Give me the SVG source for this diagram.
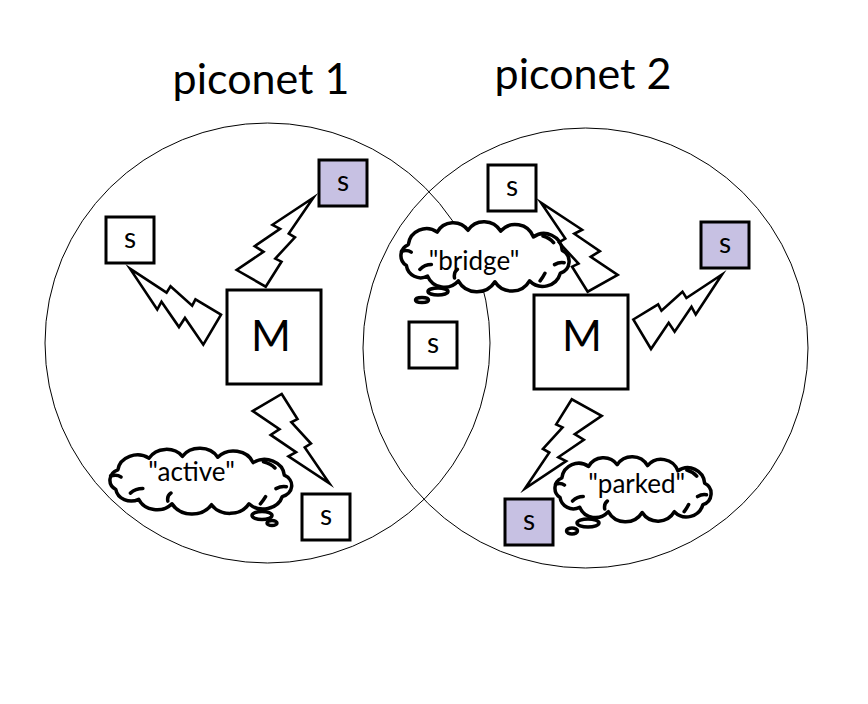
<svg xmlns="http://www.w3.org/2000/svg" xmlns:xlink="http://www.w3.org/1999/xlink" width="868" height="704" viewBox="0 0 868 704">
<style>
  .ring{fill:none;stroke:#000;stroke-width:1}
  .box{fill:#fff;stroke:#000;stroke-width:3}
  .box.parked{fill:#c7c1e3}
  .bolt{fill:none;stroke:#000;stroke-width:2.6;stroke-linejoin:miter;stroke-miterlimit:6;vector-effect:non-scaling-stroke}
  .cloud{fill:#fff;stroke:#000;stroke-width:3.5;stroke-linejoin:round;vector-effect:non-scaling-stroke}
  .curl{fill:none;stroke:#000;stroke-width:3.5;stroke-linecap:round;vector-effect:non-scaling-stroke}
  .tail{fill:#fff;stroke:#000;stroke-width:3.5}
  text{font-family:Lato,"Open Sans","Liberation Sans",sans-serif;fill:#000}
  .title{font-size:43px;text-anchor:middle}
  .m{font-size:43px;text-anchor:middle}
  .s{font-size:28px;text-anchor:middle}
  .lbl{font-size:26px;text-anchor:middle}
</style>
<defs>
  <path id="bolt" class="bolt" d="M0.39222,0 L0.59537,0.28148 L0.51157,0.31468 L0.76745,0.55588 L0.68366,0.59616 L1,1 L0.46352,0.69051 L0.56583,0.64755 L0.2325,0.44931 L0.35194,0.38806 L0,0.18009 Z"/>
  <path id="cloudShape" class="cloud" d="M10,22 A19,19 0 0 1 40,9 A19,19 0 0 1 72,7 A20,20 0 0 1 106,8 A20,20 0 0 1 140,14 A19,19 0 0 1 170,28 A13,13 0 0 1 168,52 A19,19 0 0 1 136,60 A21,21 0 0 1 100,61 A22,22 0 0 1 62,60 A19,19 0 0 1 30,55 A15,15 0 0 1 8,44 A12.5,12.5 0 0 1 10,22 Z"/>
  <path id="cloudCurls" class="curl" d="M3,29 Q9,27 13,30 M22,48 Q27,43 34,43 M58,57 Q57,51 61,48 M147,60 Q150,56 152,52 M162,43 Q167,40 172,41 M150,13 Q157,15 161,20"/>
</defs>

<g id="titles">
  <text class="title" x="261" y="94">piconet 1</text>
  <text class="title" x="583" y="89">piconet 2</text>
</g>

<g id="piconet1">
  <ellipse class="ring" cx="267.5" cy="343" rx="222.5" ry="220"/>
</g>
<g id="piconet2">
  <ellipse class="ring" cx="585.5" cy="348" rx="222.5" ry="220"/>
</g>

<g id="cloud-active">
  <g transform="translate(107.5,450.1) scale(1.04,0.895)">
    <use xlink:href="#cloudShape"/>
    <use xlink:href="#cloudCurls"/>
  </g>
  <ellipse class="tail" cx="262" cy="515.5" rx="10" ry="4"/>
  <ellipse class="tail" cx="272" cy="523" rx="5" ry="2.5"/>
  <text class="lbl" x="191.5" y="481">"active"</text>
</g>

<g id="cloud-bridge">
  <g transform="translate(398.7,223.6) scale(0.962,0.954)">
    <use xlink:href="#cloudShape"/>
    <use xlink:href="#cloudCurls"/>
  </g>
  <ellipse class="tail" cx="438" cy="291.5" rx="10" ry="3.5"/>
  <ellipse class="tail" cx="422" cy="300" rx="6.5" ry="2.5"/>
  <text class="lbl" x="474" y="270">"bridge"</text>
</g>

<g id="cloud-parked">
  <g transform="translate(552.9,458.5) scale(0.893,0.886)">
    <use xlink:href="#cloudShape"/>
    <use xlink:href="#cloudCurls"/>
  </g>
  <ellipse class="tail" cx="588" cy="523" rx="11" ry="4"/>
  <ellipse class="tail" cx="572" cy="531" rx="5.5" ry="3"/>
  <text class="lbl" x="636.7" y="493">"parked"</text>
</g>

<g id="connectors">
  <use xlink:href="#bolt" transform="matrix(2.613 -76.31 -92.59 0.383 219.975 344.63)"/>
  <use xlink:href="#bolt" transform="matrix(74.88 1.33 2.08 -89.82 236.33 286.18)"/>
  <use xlink:href="#bolt" transform="matrix(74.88 -1.84 2.08 90.41 252.33 394.72)"/>
  <use xlink:href="#bolt" transform="matrix(-76.57 1.33 -0.16 -89.82 617.73 291.18)"/>
  <use xlink:href="#bolt" transform="matrix(-3.44 -74.96 90.79 0.56 634.65 348.9)"/>
  <use xlink:href="#bolt" transform="matrix(-76.41 -0.87 -0.37 89.73 601.77 399.64)"/>
</g>

<g id="master1">
  <rect class="box" x="227" y="290" width="94" height="94"/>
  <text class="m" x="271" y="351">M</text>
</g>
<g id="master2">
  <rect class="box" x="534" y="295" width="94" height="94"/>
  <text class="m" x="582" y="351">M</text>
</g>

<g id="slave1-left">
  <rect class="box" x="106" y="217" width="48" height="46"/>
  <text class="s" x="130" y="247.5">s</text>
</g>
<g id="slave1-top">
  <rect class="box parked" x="319" y="160" width="48" height="46"/>
  <text class="s" x="343" y="190.5">s</text>
</g>
<g id="slave1-bottom">
  <rect class="box" x="302" y="494" width="48" height="46"/>
  <text class="s" x="326" y="524.5">s</text>
</g>
<g id="slave-bridge">
  <rect class="box" x="409" y="322" width="48" height="46"/>
  <text class="s" x="433" y="352.5">s</text>
</g>
<g id="slave2-top">
  <rect class="box" x="488" y="165" width="48" height="46"/>
  <text class="s" x="512" y="195.5">s</text>
</g>
<g id="slave2-right">
  <rect class="box parked" x="701" y="222" width="48" height="46"/>
  <text class="s" x="725" y="252.5">s</text>
</g>
<g id="slave2-bottom">
  <rect class="box parked" x="505" y="499" width="48" height="46"/>
  <text class="s" x="529" y="529.5">s</text>
</g>
</svg>
